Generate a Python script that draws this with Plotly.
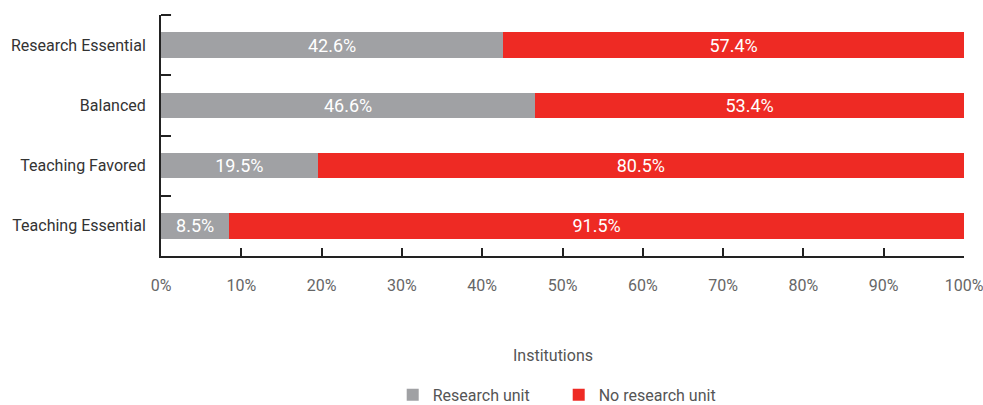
import plotly.graph_objects as go

categories = ["Research Essential", "Balanced", "Teaching Favored", "Teaching Essential"]
research_unit = [42.6, 46.6, 19.5, 8.5]
no_research_unit = [57.4, 53.4, 80.5, 91.5]
x_tickvals = [0, 10, 20, 30, 40, 50, 60, 70, 80, 90, 100]
x_ticktext = [f"{v}%" for v in x_tickvals]

FONT = "Roboto, Arial, sans-serif"
GRAY = "#a0a1a4"
RED = "#ee2a24"

fig = go.Figure()
fig.add_trace(go.Bar(
    y=categories, x=research_unit, orientation="h", name="Research unit",
    marker=dict(color=GRAY, line=dict(width=0)),
    text=[f"{v:.1f}%" for v in research_unit], textposition="inside",
    insidetextanchor="middle", constraintext="none",
    textfont=dict(color="white", size=18, family=FONT),
    width=0.42, hoverinfo="skip",
))
fig.add_trace(go.Bar(
    y=categories, x=no_research_unit, orientation="h", name="No research unit",
    marker=dict(color=RED, line=dict(width=0)),
    text=[f"{v:.1f}%" for v in no_research_unit], textposition="inside",
    insidetextanchor="middle", constraintext="none",
    textfont=dict(color="white", size=18, family=FONT),
    width=0.42, hoverinfo="skip",
))

fig.update_layout(
    barmode="stack",
    width=983, height=405,
    margin=dict(l=161, r=19, t=15, b=149, autoexpand=False),
    paper_bgcolor="white", plot_bgcolor="white",
    font=dict(family=FONT, size=16, color="#444"),
    xaxis=dict(
        range=[0, 100], tickvals=x_tickvals, ticktext=x_ticktext,
        showgrid=False, zeroline=False,
        showline=True, linecolor="#222", linewidth=2,
        ticks="inside", ticklen=8, tickwidth=2, tickcolor="#222",
        tickfont=dict(size=16, color="#666", family=FONT),
        ticklabelstandoff=14, automargin=False,
        ticklabeloverflow="allow",
    ),
    yaxis=dict(
        autorange="reversed", showgrid=False, zeroline=False,
        showline=True, linecolor="#222", linewidth=2,
        ticks="inside", tickson="boundaries", ticklen=10, tickwidth=2, tickcolor="#222",
        tickfont=dict(size=16, color="#333", family=FONT),
        ticklabelstandoff=10, automargin=False,
    ),
    showlegend=True,
    legend=dict(
        orientation="h", xref="container", x=0.3995, xanchor="left",
        yref="container", y=0.025, yanchor="middle",
        font=dict(size=16, color="#555", family=FONT),
        itemwidth=30, entrywidth=121, traceorder="normal",
    ),
    annotations=[dict(
        text="Institutions", xref="paper", yref="paper", x=0.488, y=-0.411,
        xanchor="center", yanchor="middle", showarrow=False,
        font=dict(size=16, color="#555", family=FONT),
    )],
    shapes=[dict(
        type="line", xref="paper", yref="paper", x0=0, x1=0.0125, y0=1, y1=1,
        line=dict(color="#222", width=2),
    )],
)

fig.write_html(
    "out.html",
    config={"displayModeBar": False},
    post_script="document.body.style.margin='0';document.body.style.overflow='hidden';",
)
